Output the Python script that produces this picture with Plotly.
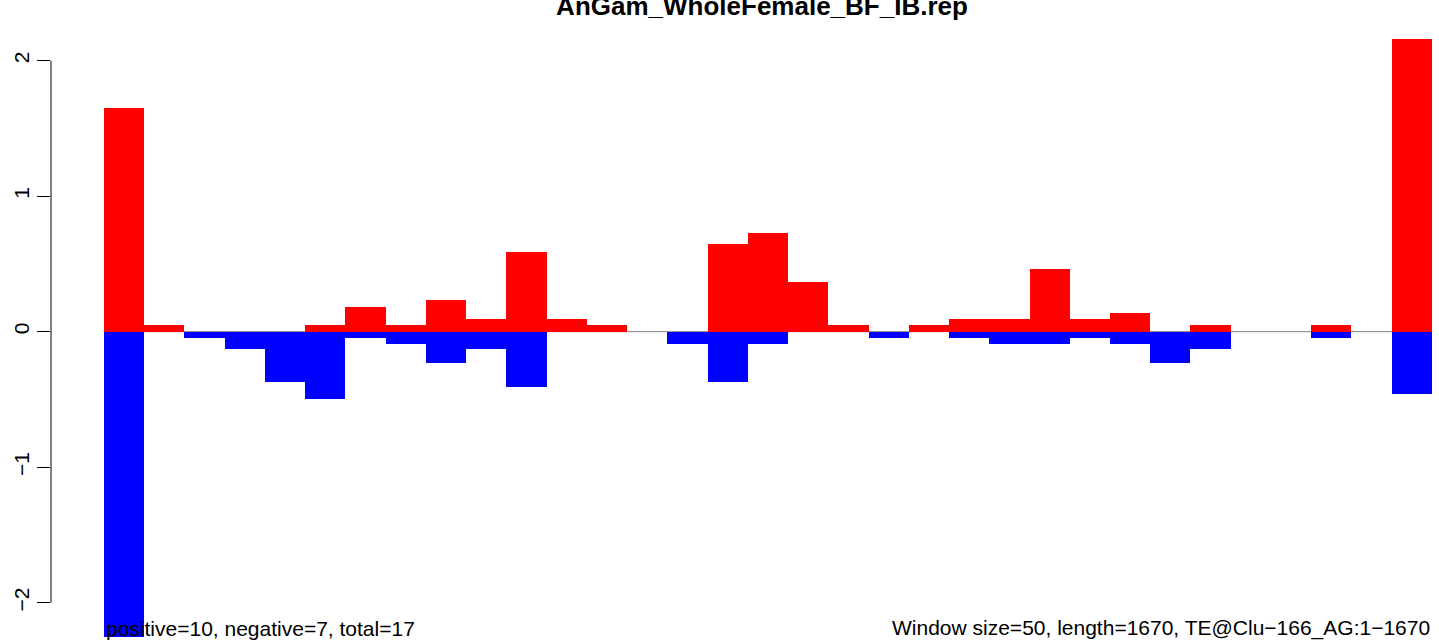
import plotly.graph_objects as go

# per-window scores (33 windows of 50 bp)
pos_vals = [1.65, 0.05, 0, 0, 0, 0.05, 0.18, 0.05, 0.23, 0.09, 0.59, 0.09, 0.05, 0, 0,
            0.65, 0.73, 0.37, 0.05, 0, 0.05, 0.09, 0.09, 0.46, 0.09, 0.14, 0, 0.05, 0, 0,
            0.05, 0, 2.16]
neg_vals = [-2.25, 0, -0.05, -0.13, -0.37, -0.5, -0.05, -0.09, -0.23, -0.13, -0.41, 0, 0, 0,
            -0.09, -0.37, -0.09, 0, 0, -0.05, 0, -0.05, -0.09, -0.09, -0.05, -0.09, -0.23,
            -0.13, 0, 0, -0.05, 0, -0.46]
y_ticks = [-2, -1, 0, 1, 2]
title_text = "AnGam_WholeFemale_BF_IB.rep"
left_note = "positive=10, negative=7, total=17"
right_note = "Window size=50, length=1670, TE@Clu\u2212166_AG:1\u22121670"

n = len(pos_vals)
xs = [i + 0.5 for i in range(n)]
font = "Liberation Sans, Arial, Helvetica, sans-serif"

fig = go.Figure()
fig.add_trace(go.Bar(x=xs, y=pos_vals, width=1, marker=dict(color="#ff0000", line=dict(width=0))))
fig.add_trace(go.Bar(x=xs, y=neg_vals, width=1, marker=dict(color="#0000ff", line=dict(width=0))))

# zero line under the bars
fig.add_shape(type="line", x0=0, x1=n, y0=0, y1=0, layer="below",
              line=dict(color="#808080", width=1))
# R style axis line only between the end ticks
fig.add_shape(type="line", xref="paper", x0=0, x1=0, y0=-2, y1=2,
              line=dict(color="black", width=1))

fig.add_annotation(x=0, y=-2.19, text=left_note, showarrow=False, xanchor="left",
                   yanchor="middle", font=dict(size=21, color="black", family=font))
fig.add_annotation(x=n, y=-2.19, text=right_note, showarrow=False, xanchor="right",
                   yanchor="middle", font=dict(size=21, color="black", family=font))

fig.update_layout(
    width=1439, height=641,
    paper_bgcolor="white", plot_bgcolor="white",
    barmode="overlay", bargap=0, showlegend=False,
    margin=dict(l=51, r=0, t=15, b=0, autoexpand=False),
    title=dict(text="<b>" + title_text + "</b>", x=762 / 1439, xref="container", xanchor="center",
               y=1 - 6 / 641, yref="container", yanchor="middle", automargin=False,
               font=dict(size=26, color="black", family=font)),
    font=dict(family=font, color="black"),
)
fig.update_xaxes(range=[-1.317, 33.176], visible=False, fixedrange=True, automargin=False)
fig.update_yaxes(range=[-2.283, 2.337], tickvals=y_ticks, ticktext=[str(v).replace("-", "\u2212") for v in y_ticks],
                 tickangle=-90, ticks="outside", ticklen=13, tickwidth=1, tickcolor="black",
                 showgrid=False, zeroline=False, showline=False, automargin=False,
                 tickfont=dict(size=21, color="black", family=font))

# drop the page's default 8px body margin so the figure sits at the window corner
fig.write_html("out.html", config={"displayModeBar": False},
               post_script="document.body.style.margin='0';document.body.style.overflow='hidden';")
